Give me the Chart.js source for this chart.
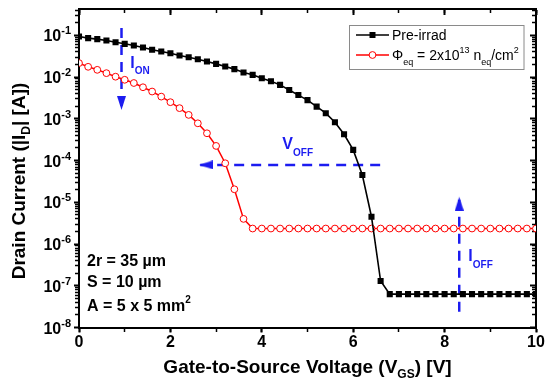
<!DOCTYPE html>
<html>
<head>
<meta charset="utf-8">
<script src="https://cdn.jsdelivr.net/npm/chart.js@4.4.0/dist/chart.umd.min.js"></script>
<style>
html,body{margin:0;padding:0;background:#fff;}
canvas{display:block;}
</style>
</head>
<body>
<canvas id="c" width="550" height="388"></canvas>
<script>
// ---------------- data ----------------
const voltage = [0,0.2,0.4,0.6,0.8,1,1.2,1.4,1.6,1.8,2,2.2,2.4,2.6,2.8,3,3.2,3.4,3.6,3.8,
  4,4.2,4.4,4.6,4.8,5,5.2,5.4,5.6,5.8,6,6.2,6.4,6.6,6.8,7,7.2,7.4,7.6,7.8,
  8,8.2,8.4,8.6,8.8,9,9.2,9.4,9.6,9.8,10];

const preIrrad = [0.0935,0.0855,0.081,0.075,0.0685,0.0625,0.057,0.051,0.045,0.041,
  0.0373,0.0328,0.0299,0.0268,0.0235,0.0207,0.0179,0.0155,0.0128,0.0113,
  0.0094,0.0079,0.0065,0.0049,0.0037,0.0028,0.00196,0.00136,0.00083,0.000427,
  0.00018,4.5e-5,4.5e-6,1.3e-7,6.3e-8,6.3e-8,6.3e-8,6.3e-8,6.3e-8,6.3e-8,
  6.3e-8,6.3e-8,6.3e-8,6.3e-8,6.3e-8,6.3e-8,6.3e-8,6.3e-8,6.3e-8,6.3e-8,6.3e-8];

const irrad = [0.0216,0.0176,0.0149,0.0124,0.0102,0.0086,0.0072,0.0057,0.0045,0.0034,
  0.0025,0.0018,0.00124,0.00078,0.00045,0.000224,8.6e-5,2.05e-5,4.0e-6,2.35e-6,
  2.35e-6,2.35e-6,2.35e-6,2.35e-6,2.35e-6,2.35e-6,2.35e-6,2.35e-6,2.35e-6,2.35e-6,
  2.35e-6,2.35e-6,2.35e-6,2.35e-6,2.35e-6,2.35e-6,2.35e-6,2.35e-6,2.35e-6,2.35e-6,
  2.35e-6,2.35e-6,2.35e-6,2.35e-6,2.35e-6,2.35e-6,2.35e-6,2.35e-6,2.35e-6,2.35e-6,2.35e-6];

// annotation arrows (start, tip) in data coordinates
const ionArrowX = [0.93, 0.93];
const ionArrowY = [0.149, 1.63e-3];
const voffArrowX = [6.59, 2.63];
const voffArrowY = [7.85e-5, 7.85e-5];
const ioffArrowX = [8.32, 8.32];
const ioffArrowY = [2.38e-8, 1.36e-5];

// axes
const X_MIN = 0, X_MAX = 10, X_MAJOR_STEP = 2, X_MINOR_STEP = 1;
const Y_MIN = 1e-8, Y_MAX = 0.42;
const yTickExponents = [-8,-7,-6,-5,-4,-3,-2,-1];

// ---------------- helpers ----------------
const FONT = "'Liberation Sans', Arial, Helvetica, sans-serif";
const BLUE = '#1c1cf0';
Chart.defaults.font.family = FONT;

const yMajorTicks = yTickExponents.map(e => Math.pow(10, e));
const yMinorTicks = [];
yTickExponents.forEach(e => { for (let m = 2; m <= 9; m++) { const v = m * Math.pow(10, e); if (v <= Y_MAX) yMinorTicks.push(v); } });

function makeArrowHead(color) {
  const c = document.createElement('canvas');
  c.width = 9; c.height = 28;
  const g = c.getContext('2d');
  g.fillStyle = color;
  g.beginPath(); g.moveTo(4.5, 14); g.lineTo(9, 28); g.lineTo(0, 28); g.closePath(); g.fill();
  return c;
}
const arrowHead = makeArrowHead(BLUE);

function pts(xs, ys) { return xs.map((x, i) => ({x: x, y: ys[i]})); }

function arrowDataset(xs, ys, rot) {
  return {
    data: pts(xs, ys), borderColor: BLUE, borderWidth: 2.5, borderDash: [10, 7],
    pointRadius: [0, 4], pointStyle: arrowHead, pointRotation: rot, fill: false, tension: 0
  };
}

function fontStr(p) { return (p.bold ? 'bold ' : '') + p.size + 'px ' + FONT; }
function drawRich(ctx, parts, x, y, align, color) {
  let w = 0;
  parts.forEach(p => { ctx.font = fontStr(p); w += ctx.measureText(p.t).width; });
  let cx = align === 'right' ? x - w : align === 'center' ? x - w / 2 : x;
  ctx.textAlign = 'left'; ctx.textBaseline = 'alphabetic';
  parts.forEach(p => {
    ctx.font = fontStr(p); ctx.fillStyle = p.color || color || '#000';
    ctx.fillText(p.t, cx, y + (p.dy || 0));
    cx += ctx.measureText(p.t).width;
  });
}

const decorPlugin = {
  id: 'decor',
  afterDraw(chart) {
    const ctx = chart.ctx, ca = chart.chartArea;
    const ys = chart.scales.y, xs = chart.scales.x;
    ctx.save();
    // y tick labels with superscript exponents
    yTickExponents.forEach(e => {
      const py = ys.getPixelForValue(Math.pow(10, e));
      drawRich(ctx, [{t:'10', size:16, bold:true}, {t:String(e), size:11, bold:true, dy:-7}], 71, py + 6, 'right');
    });
    // axis titles
    drawRich(ctx, [{t:'Gate-to-Source Voltage (V', size:19, bold:true}, {t:'GS', size:12, bold:true, dy:5}, {t:') [V]', size:19, bold:true}],
      (ca.left + ca.right) / 2, 373, 'center');
    ctx.save();
    ctx.translate(25, 181); ctx.rotate(-Math.PI / 2);
    drawRich(ctx, [{t:'Drain Current (|I', size:19, bold:true}, {t:'D', size:12, bold:true, dy:5}, {t:'| [A])', size:19, bold:true}], 0, 0, 'center');
    ctx.restore();
    // blue annotation labels
    drawRich(ctx, [{t:'I', size:16, bold:true}, {t:'ON', size:10, bold:true, dy:6}], xs.getPixelForValue(1.12), 68, 'left', BLUE);
    drawRich(ctx, [{t:'V', size:16, bold:true}, {t:'OFF', size:10, bold:true, dy:7}], xs.getPixelForValue(4.45), 149, 'left', BLUE);
    drawRich(ctx, [{t:'I', size:16, bold:true}, {t:'OFF', size:10, bold:true, dy:7}], xs.getPixelForValue(8.52), 261, 'left', BLUE);
    // device parameters
    drawRich(ctx, [{t:'2r = 35 \u00b5m', size:16, bold:true}], 87, 266, 'left');
    drawRich(ctx, [{t:'S = 10 \u00b5m', size:16, bold:true}], 87, 287, 'left');
    drawRich(ctx, [{t:'A = 5 x 5 mm', size:16, bold:true}, {t:'2', size:10, bold:true, dy:-8}], 87, 311, 'left');
    // legend
    const lx = 349.5, ly = 25.5, lw = 174.5, lh = 44;
    ctx.fillStyle = '#fff'; ctx.fillRect(lx, ly, lw, lh);
    ctx.strokeStyle = '#8a8a8a'; ctx.lineWidth = 1; ctx.strokeRect(lx, ly, lw, lh);
    // entry 1
    ctx.strokeStyle = '#000'; ctx.lineWidth = 1.5;
    ctx.beginPath(); ctx.moveTo(356, 35); ctx.lineTo(389, 35); ctx.stroke();
    ctx.fillStyle = '#000'; ctx.fillRect(372.5 - 3, 35 - 3, 6, 6);
    drawRich(ctx, [{t:'Pre-irrad', size:14}], 392, 40, 'left');
    // entry 2
    ctx.strokeStyle = '#ff0000'; ctx.lineWidth = 1.5;
    ctx.beginPath(); ctx.moveTo(356, 55); ctx.lineTo(389, 55); ctx.stroke();
    ctx.fillStyle = '#fff'; ctx.lineWidth = 1;
    ctx.beginPath(); ctx.arc(372.5, 55, 3.4, 0, Math.PI * 2); ctx.fill(); ctx.stroke();
    drawRich(ctx, [{t:'\u03a6', size:14}, {t:'eq', size:9, dy:5}, {t:' = 2x10', size:14}, {t:'13', size:9, dy:-7},
      {t:' n', size:14}, {t:'eq', size:9, dy:5}, {t:'/cm', size:14}, {t:'2', size:9, dy:-7}], 392, 60, 'left');
    ctx.restore();
  }
};

function tickAxis(axis, position, min, max, ticksCfg, len, width, type) {
  return Object.assign({
    axis: axis, type: type, position: position, min: min, max: max,
    ticks: Object.assign({display: false}, ticksCfg.ticks || {}),
    grid: {drawOnChartArea: false, tickLength: len, tickWidth: width, tickColor: '#000'},
    border: {display: true, color: '#000', width: 2}
  }, ticksCfg.extra || {});
}

new Chart(document.getElementById('c'), {
  type: 'line',
  data: {
    datasets: [
      { label: 'Pre-irrad', data: pts(voltage, preIrrad), borderColor: '#000', borderWidth: 1.6,
        pointStyle: 'rect', pointRadius: 4.3, pointBackgroundColor: '#000', pointBorderColor: '#000', pointBorderWidth: 0, tension: 0, fill: false },
      { label: 'irrad', data: pts(voltage, irrad), borderColor: '#ff0000', borderWidth: 1.5,
        pointStyle: 'circle', pointRadius: 3.4, pointBackgroundColor: '#fff', pointBorderColor: '#ff0000', pointBorderWidth: 1, tension: 0, fill: false },
      arrowDataset(ionArrowX, ionArrowY, 180),
      arrowDataset(voffArrowX, voffArrowY, 270),
      arrowDataset(ioffArrowX, ioffArrowY, 0)
    ]
  },
  options: {
    responsive: false, animation: false, events: [],
    layout: {padding: {top: 9.3, right: 14, left: 0, bottom: 0}},
    plugins: {legend: {display: false}, tooltip: {enabled: false}},
    scales: {
      x: {
        type: 'linear', position: 'bottom', min: X_MIN, max: X_MAX,
        ticks: {stepSize: X_MAJOR_STEP, color: '#000', font: {size: 16, weight: 'bold'}, padding: 0, maxRotation: 0, autoSkip: false},
        grid: {drawOnChartArea: false, tickLength: 5, tickWidth: 2, tickColor: '#000'},
        border: {color: '#000', width: 2},
        afterFit: s => { s.height = 60.5; s.paddingLeft = 0; s.paddingRight = 0; }
      },
      y: {
        type: 'logarithmic', position: 'left', min: Y_MIN, max: Y_MAX,
        ticks: {display: false, autoSkip: false},
        afterBuildTicks: s => { s.ticks = yMajorTicks.map(v => ({value: v})); },
        grid: {drawOnChartArea: false, tickLength: 5, tickWidth: 2, tickColor: '#000'},
        border: {color: '#000', width: 2},
        afterFit: s => { s.width = 79; }
      },
      xMinorB: tickAxis('x', {y: Y_MIN}, X_MIN, X_MAX, {ticks: {stepSize: X_MINOR_STEP}}, 3, 1.5, 'linear'),
      xMajorT: tickAxis('x', {y: Y_MAX}, X_MIN, X_MAX, {ticks: {stepSize: X_MAJOR_STEP}}, 5, 2, 'linear'),
      xMinorT: tickAxis('x', {y: Y_MAX}, X_MIN, X_MAX, {ticks: {stepSize: X_MINOR_STEP}}, 3, 1.5, 'linear'),
      yMinorL: tickAxis('y', {x: X_MIN}, Y_MIN, Y_MAX, {extra: {afterBuildTicks: s => { s.ticks = yMinorTicks.map(v => ({value: v})); }}}, 3, 1.5, 'logarithmic'),
      yMajorR: tickAxis('y', {x: X_MAX}, Y_MIN, Y_MAX, {extra: {afterBuildTicks: s => { s.ticks = yMajorTicks.map(v => ({value: v})); }}}, 5, 2, 'logarithmic'),
      yMinorR: tickAxis('y', {x: X_MAX}, Y_MIN, Y_MAX, {extra: {afterBuildTicks: s => { s.ticks = yMinorTicks.map(v => ({value: v})); }}}, 3, 1.5, 'logarithmic')
    }
  },
  plugins: [decorPlugin]
});
</script>
</body>
</html>
